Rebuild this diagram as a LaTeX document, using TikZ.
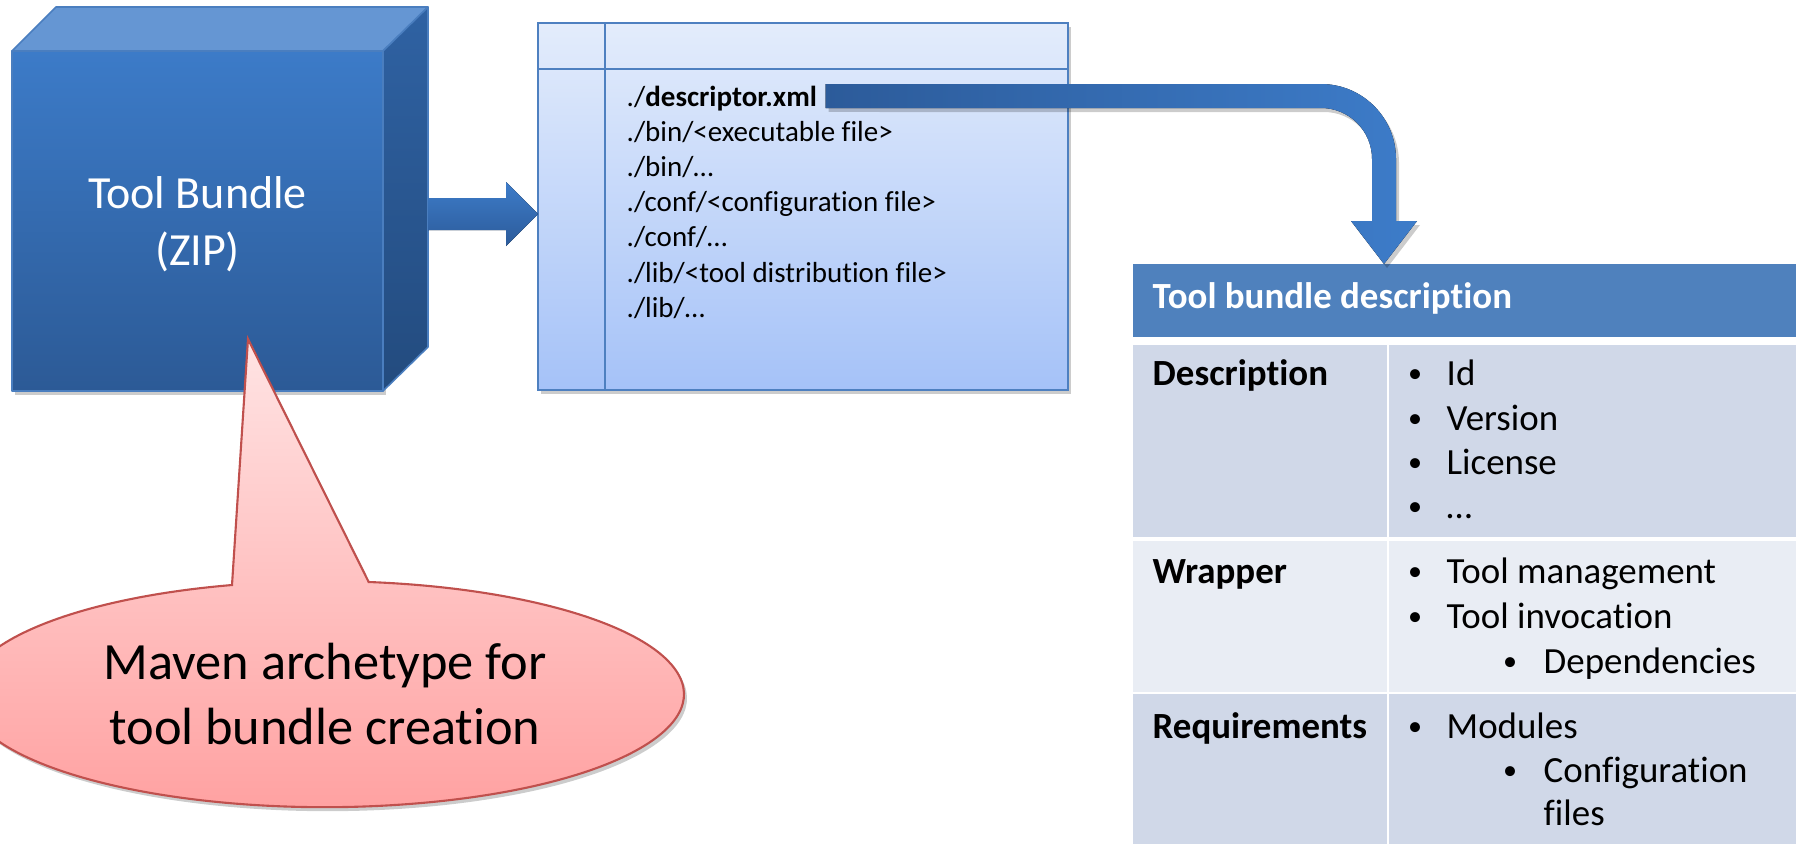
\documentclass[tikz,border=0pt]{standalone}
\usepackage{fontspec}
\setmainfont{Carlito}[Ligatures=NoCommon]
\usetikzlibrary{positioning, calc, shadows}

\definecolor{cubeFrontTop}{HTML}{3C7BC8}
\definecolor{cubeFrontBot}{HTML}{2C5A96}
\definecolor{cubeTopFace}{HTML}{6596D3}
\definecolor{cubeSideTop}{HTML}{2F62A3}
\definecolor{cubeSideBot}{HTML}{234B7E}
\definecolor{cubeEdge}{HTML}{4A7EBF}
\definecolor{arrowDark}{HTML}{2C5B9A}
\definecolor{arrowLight}{HTML}{3D7CC9}
\definecolor{listTop}{HTML}{E3ECFB}
\definecolor{listBot}{HTML}{A5C2F8}
\definecolor{listEdge}{HTML}{4E80C0}
\definecolor{tblHead}{HTML}{4F81BD}
\definecolor{tblDark}{HTML}{D0D8E8}
\definecolor{tblLight}{HTML}{E9EDF4}
\definecolor{callTop}{HTML}{FFE4E4}
\definecolor{callBot}{HTML}{FFA0A0}
\definecolor{callEdge}{HTML}{C0504D}

\begin{document}
\begin{tikzpicture}[
  face/.style={draw=cubeEdge, line width=0.45pt, line join=round},
  softshadow/.style={drop shadow={shadow xshift=0.03cm, shadow yshift=-0.04cm,
                     opacity=0.2, fill=black}},
  listtxt/.style={anchor=base west, inner sep=0pt, font=\fontsize{8.25}{9.9}\selectfont},
  tabtxt/.style={anchor=base west, inner sep=0pt, font=\fontsize{10.5}{12.6}\selectfont},
  tabbold/.style={tabtxt, font=\fontsize{10.5}{12.6}\selectfont\bfseries},
  bullet/.style={anchor=base, inner sep=0pt, yshift=0.03cm, font=\fontsize{8}{9.6}\selectfont},
  cell/.style={anchor=north west, inner sep=0pt, outer sep=0pt, minimum height=#1},
]
  \useasboundingbox (0,0) rectangle (17.96,-8.43);
  \clip (0,0) rectangle (17.96,-8.43);
  \fill[white] (0,0) rectangle (17.96,-8.43);

  % ZIP cube
  \node[face, softshadow, top color=cubeFrontTop, bottom color=cubeFrontBot,
        minimum width=3.71cm, minimum height=3.40cm, inner sep=0pt, outer sep=0pt,
        align=center, text=white, text depth=0pt, font=\fontsize{13.1}{16.2}\selectfont]
        (bundle) at (1.975,-2.21) {Tool Bundle\\(ZIP)};
  \draw[face, fill=cubeTopFace] (bundle.north west) -- ++(0.44,0.44)
       -- ($(bundle.north east)+(0.45,0.44)$) -- (bundle.north east) -- cycle;
  \draw[face, top color=cubeSideTop, bottom color=cubeSideBot] (bundle.north east)
       -- ++(0.45,0.44) -- ($(bundle.south east)+(0.45,0.44)$) -- (bundle.south east) -- cycle;

  % Bundle content listing
  \node[softshadow, draw=listEdge, line width=0.6pt, top color=listTop, bottom color=listBot,
        minimum width=5.30cm, minimum height=3.67cm, inner sep=0pt, outer sep=0pt]
        (listing) at (8.03,-2.065) {};
  \draw[listEdge, line width=0.6pt] ($(listing.north west)+(0,-0.46)$) -- ($(listing.north east)+(0,-0.46)$);
  \draw[listEdge, line width=0.6pt] ($(listing.north west)+(0.67,0)$) -- ($(listing.south west)+(0.67,0)$);
  \foreach \t [count=\i from 0] in {./\textbf{descriptor.xml}, ./bin/<executable file>, ./bin/…,
      ./conf/<configuration file>, ./conf/…, ./lib/<tool distribution file>, ./lib/…}
    \node[listtxt] (f\i) at (6.26,-1.06-0.352*\i) {\t};

  % cube -> listing
  \coordinate (zipout) at ($(bundle.east)+(0.45,0.07)$);
  \coordinate (ziptip) at (listing.west |- zipout);
  \fill[top color=arrowLight, bottom color=arrowDark] ($(zipout)+(0,0.16)$)
       -- ($(ziptip)+(-0.32,0.16)$) -- ++(0,0.16) -- (ziptip) -- ++(-0.32,-0.32)
       -- ++(0,0.16) -- ($(zipout)+(0,-0.16)$) -- cycle;

  % Tool bundle description table
  \node[cell=0.73cm, fill=tblHead, minimum width=6.8cm] (hdr) at (11.33,-2.64) {};
  \node[cell=1.92cm, fill=tblDark, minimum width=2.54cm] (dsc) at (11.33,-3.45) {};
  \node[cell=1.92cm, fill=tblDark, minimum width=4.2cm] (dscv) at (13.89,-3.45) {};
  \node[cell=1.51cm, fill=tblLight, minimum width=2.54cm] (wrp) at (11.33,-5.41) {};
  \node[cell=1.51cm, fill=tblLight, minimum width=4.2cm] (wrpv) at (13.89,-5.41) {};
  \node[cell=1.6cm, fill=tblDark, minimum width=2.54cm] (req) at (11.33,-6.94) {};
  \node[cell=1.6cm, fill=tblDark, minimum width=4.2cm] (reqv) at (13.89,-6.94) {};

  \node[tabbold, text=white] (hdrtxt) at (11.52,-3.08) {Tool bundle description};
  \node[tabbold] (dsclbl) at (11.52,-3.85) {Description};
  \node[tabbold] (wrplbl) at (11.52,-5.83) {Wrapper};
  \node[tabbold] (reqlbl) at (11.52,-7.38) {Requirements};

  \foreach \t/\yy [count=\i] in {Id/3.85, Version/4.30, License/4.74, …/5.18} {
    \node[bullet] (db\i) at (14.15,-\yy) {\textbullet};
    \node[tabtxt] (dt\i) at (14.46,-\yy) {\t};
  }
  \foreach \t/\yy [count=\i] in {Tool management/5.83, Tool invocation/6.28} {
    \node[bullet] (wb\i) at (14.15,-\yy) {\textbullet};
    \node[tabtxt] (wt\i) at (14.46,-\yy) {\t};
  }
  \node[bullet] (wb3) at (15.10,-6.73) {\textbullet};
  \node[tabtxt] (wt3) at (15.43,-6.73) {Dependencies};
  \node[bullet] (rb1) at (14.15,-7.38) {\textbullet};
  \node[tabtxt] (rt1) at (14.46,-7.38) {Modules};
  \node[bullet] (rb2) at (15.10,-7.82) {\textbullet};
  \node[tabtxt] (rt2) at (15.43,-7.82) {Configuration};
  \node[tabtxt] (rt3) at (15.43,-8.25) {files};

  % descriptor.xml -> table
  \coordinate (xmlout) at ($(f0.base east)+(0.08,0.10)$);
  \coordinate (desctop) at ($(hdr.north west)+(2.51,0)$);
  \coordinate (bend) at (desctop |- xmlout);
  \fill[softshadow, left color=arrowDark, right color=arrowLight]
       ($(xmlout)+(0,0.12)$) -- ($(bend)+(-0.63,0.12)$) arc[start angle=90, end angle=0, radius=0.75]
       -- ($(desctop)+(0.12,0.43)$) -- ++(0.21,0) -- (desctop) -- ++(-0.33,0.43) -- ++(0.21,0)
       -- ($(bend)+(-0.12,-0.63)$) arc[start angle=0, end angle=90, radius=0.51]
       -- ($(xmlout)+(0,-0.12)$) -- cycle;

  % Maven callout
  \coordinate (tailtip) at (2.48,-3.39);
  \draw[softshadow, draw=callEdge, line width=0.6pt, top color=callTop, bottom color=callBot]
       (tailtip) -- (2.32,-5.85) arc[start angle=105, end angle=443, x radius=3.59, y radius=1.13] -- cycle;
  \node[align=center, inner sep=0pt, font=\fontsize{14.9}{18.5}\selectfont]
       (maven) at (3.25,-6.94) {Maven archetype for\\tool bundle creation};
\end{tikzpicture}
\end{document}
